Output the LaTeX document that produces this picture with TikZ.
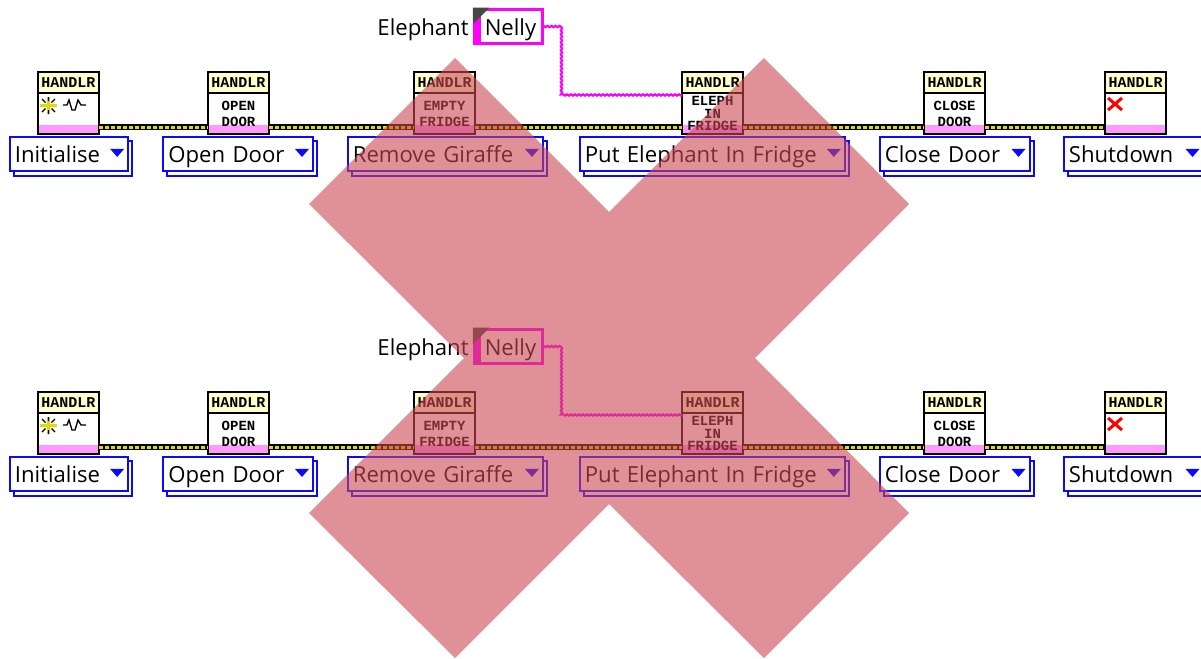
\documentclass[tikz,border=0pt]{standalone}
\usepackage{fontspec}
\setmainfont{Open Sans}
\newfontfamily\pixelfont{Liberation Mono}
\usetikzlibrary{positioning}
\usetikzlibrary{shadows}
\usetikzlibrary{decorations.pathmorphing}

\definecolor{enumblue}{HTML}{0A0AFF}
\definecolor{headcream}{HTML}{FFFFCC}
\definecolor{bandpink}{HTML}{FF99FF}
\definecolor{stringpink}{HTML}{FF00FF}
\definecolor{railyellow}{HTML}{DDDD00}
\definecolor{crossred}{RGB}{203,72,83}

\tikzset{
  handlrhead/.style={draw=black,line width=1.5pt,fill=headcream,outer sep=0pt,inner sep=0pt,
    minimum width=45.75pt,minimum height=15.75pt,font=\pixelfont\bfseries\fontsize{11.25}{12}\selectfont},
  handlrbody/.style={draw=black,line width=1.5pt,fill=white,outer sep=0pt,inner sep=0pt,align=center,
    minimum width=45.75pt,minimum height=30.75pt,font=\pixelfont\bfseries\fontsize{10.5}{12}\selectfont,
    path picture={\fill[bandpink] (path picture bounding box.south west)
      rectangle ([yshift=7pt]path picture bounding box.south east);}},
  enumbox/.style={draw=enumblue,line width=1.5pt,fill=white,outer sep=0pt,inner ysep=0pt,inner xsep=4pt,
    minimum height=26pt,align=left,font=\fontsize{16.6}{20}\selectfont,anchor=west,
    text height=15pt,text depth=3pt,
    copy shadow={shadow xshift=3.2pt,shadow yshift=-3.2pt,draw=enumblue,fill=white,opacity=1}},
  railblack/.style={line width=4.5pt,black},
  railyolk/.style={line width=1.6pt,railyellow,dash pattern=on 3pt off 1.5pt},
  stringwire/.style={line width=1.6pt,stringpink,decorate,
    decoration={zigzag,segment length=3pt,amplitude=.5pt}},
  nellybox/.style={draw=stringpink,line width=2.25pt,fill=white,outer sep=0pt,inner sep=0pt,
    minimum width=51pt,minimum height=26pt,font=\fontsize{16.6}{20}\selectfont,
    text height=17pt,text depth=3pt,
    path picture={
      \fill[stringpink] (path picture bounding box.north west) rectangle ++(5pt,-30pt);}},
  namelabel/.style={inner sep=0pt,font=\fontsize{16.6}{20}\selectfont,text height=17pt,text depth=3pt},
  cornermark/.style={fill=black!72},
  xcross/.style={fill=crossred,opacity=.6},
}

% one row of the sequence
\newcommand{\fridgerow}[2]{
\begin{scope}[shift={(0,#2)}]
  \node[handlrhead] (#1inithead) at (68.5,82.5) {HANDLR};
  \node[handlrbody,below=0pt of #1inithead] (#1init) {};
  \node[handlrhead] (#1openhead) at (238.5,82.5) {HANDLR};
  \node[handlrbody,below=0pt of #1openhead] (#1open) {OPEN\\DOOR};
  \node[handlrhead] (#1emptyhead) at (444.5,82.5) {HANDLR};
  \node[handlrbody,below=0pt of #1emptyhead] (#1empty) {EMPTY\\FRIDGE};
  \node[handlrhead] (#1elephhead) at (712.5,82.5) {HANDLR};
  \node[handlrbody,below=0pt of #1elephhead] (#1eleph) {ELEPH\\[-2.8pt]IN\\[-2.8pt]FRIDGE};
  \node[handlrhead] (#1closehead) at (954.5,82.5) {HANDLR};
  \node[handlrbody,below=0pt of #1closehead] (#1close) {CLOSE\\DOOR};
  \node[handlrhead] (#1shuthead) at (1135.5,82.5) {HANDLR};
  \node[handlrbody,below=0pt of #1shuthead] (#1shut) {};
  \foreach \a/\b in {init/open,open/empty,empty/eleph,eleph/close,close/shut} {
    \draw[railblack] ([yshift=4.9pt]#1\a.south east) -- ([yshift=4.9pt]#1\b.south west);
    \draw[railyolk] ([yshift=4.9pt]#1\a.south east) -- ([yshift=4.9pt]#1\b.south west);
  }
  \node[enumbox,text width=81pt] (#1initenum) at (9.5,154) {Initialise};
  \node[enumbox,text width=104.5pt] (#1openenum) at (163,154) {Open Door};
  \node[enumbox,text width=138.6pt] (#1emptyenum) at (347.5,154) {Remove Giraffe};
  \node[enumbox,text width=191pt] (#1elephenum) at (579.5,154) {Put Elephant In Fridge};
  \node[enumbox,text width=104.5pt] (#1closeenum) at (879.5,154) {Close Door};
  \node[enumbox,text width=97pt] (#1shutenum) at (1063.5,154) {Shutdown};
  \foreach \e in {init,open,empty,eleph,close,shut} {
    \fill[enumblue] ([xshift=-13.5pt,yshift=3.8pt]#1\e enum.east) -- ++(14,0) -- ++(-7,8) -- cycle;
  }
  % little pictures in the two empty handlers
  \draw[railyellow,line width=2pt] (40,105.5) -- (57,105.5) (48.5,97) -- (48.5,114);
  \draw[black,line width=.9pt] (42,99) -- (45.5,102.5) (55,99) -- (51.5,102.5)
    (42,112) -- (45.5,108.5) (55,112) -- (51.5,108.5) (48.5,97) -- (48.5,101) (48.5,110) -- (48.5,114);
  \draw[black,line width=1pt] (63,105) -- (67,105) -- (69,100) -- (72,110) -- (75,110) -- (78,100) -- (81,105) -- (86,105);
  \draw[red,line width=2.3pt] (1108,98) -- (1122,110) (1122,98) -- (1108,110);
  % the control and its wire
  \node[nellybox] (#1nelly) at (508.5,26.5) {\hspace*{3pt}Nelly};
  \node[namelabel,left=4.2pt of #1nelly] (#1name) {Elephant};
  \fill[cornermark] ([shift={(-1.2pt,1.2pt)}]#1nelly.north west) -- ++(12.5pt,0) -- ++(-12.5pt,-12.5pt) -- cycle;
  \draw[stringwire] (#1nelly.east) -- ++(19,0) |- ([yshift=-1.5pt]#1eleph.north west);
\end{scope}
}

\begin{document}
\begin{tikzpicture}[x=.75pt,y=-.75pt]
\clip (0,0) rectangle (1201,658);
\fridgerow{top}{0}
\fridgerow{bot}{320}
\fill[xcross] (455,58) -- (609,212) -- (764,58) -- (909,204) -- (755,358) -- (909,513)
  -- (764,658) -- (609,504) -- (455,658) -- (309,513) -- (464,358) -- (309,204) -- cycle;
\end{tikzpicture}
\end{document}
